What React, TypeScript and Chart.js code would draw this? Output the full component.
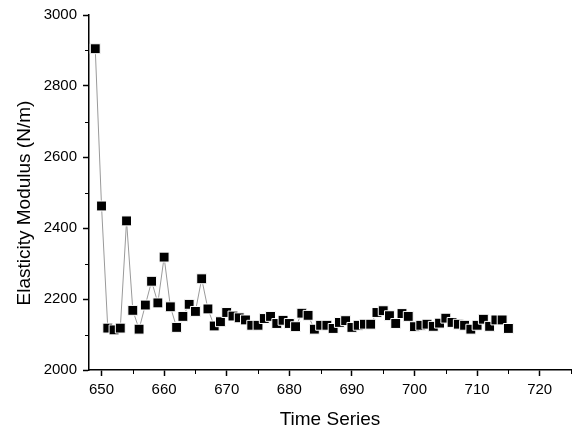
import React, { useEffect, useRef } from "react";
import { Chart, registerables } from "chart.js";

Chart.register(...registerables);

const TIME = [
  649, 650, 651, 652, 653, 654, 655, 656, 657, 658, 659, 660, 661, 662, 663, 664, 665, 666, 667, 668,
  669, 670, 671, 672, 673, 674, 675, 676, 677, 678, 679, 680, 681, 682, 683, 684, 685, 686, 687, 688,
  689, 690, 691, 692, 693, 694, 695, 696, 697, 698, 699, 700, 701, 702, 703, 704, 705, 706, 707, 708,
  709, 710, 711, 712, 713, 714, 715,
];
const MODULUS = [
  2905, 2462, 2118, 2113, 2118, 2420, 2168, 2115, 2183, 2250, 2189, 2318, 2178, 2120, 2151, 2185, 2165, 2257, 2172, 2124,
  2136, 2162, 2152, 2147, 2141, 2126, 2126, 2145, 2151, 2131, 2140, 2131, 2122, 2160, 2154, 2115, 2126, 2126, 2117, 2134,
  2139, 2120, 2126, 2129, 2129, 2162, 2167, 2153, 2131, 2159, 2151, 2122, 2126, 2129, 2123, 2132, 2146, 2134, 2129, 2126,
  2115, 2126, 2143, 2123, 2141, 2141, 2117,
];
const X_TICKS = [650, 660, 670, 680, 690, 700, 710, 720];
const X_MINOR = [655, 665, 675, 685, 695, 705, 715, 725];
const Y_TICKS = [2000, 2200, 2400, 2600, 2800, 3000];
const Y_MINOR = [2100, 2300, 2500, 2700, 2900];

const FONT = "'Liberation Sans', Arial, sans-serif";

const minorTicks = {
  id: "minorTicks",
  afterDraw(chart: any) {
    const ctx = chart.ctx;
    const xs = chart.scales.x;
    const ys = chart.scales.y;
    ctx.save();
    ctx.strokeStyle = "#000";
    ctx.lineWidth = 1;
    ctx.beginPath();
    X_MINOR.forEach((v) => {
      const px = Math.round(xs.getPixelForValue(v)) + 0.5;
      ctx.moveTo(px, xs.top);
      ctx.lineTo(px, xs.top + 4);
    });
    Y_MINOR.forEach((v) => {
      const py = Math.round(ys.getPixelForValue(v)) + 0.5;
      ctx.moveTo(ys.right, py);
      ctx.lineTo(ys.right - 4, py);
    });
    ctx.stroke();
    ctx.restore();
  },
};

export default function App() {
  const ref = useRef<HTMLCanvasElement>(null);
  useEffect(() => {
    if (!ref.current) return;
    const chart = new Chart(ref.current, {
      type: "line",
      data: {
        datasets: [
          {
            data: TIME.map((t, i) => ({ x: t, y: MODULUS[i] })),
            borderColor: "#9a9a9a",
            borderWidth: 1,
            pointStyle: "rect",
            pointRadius: 7,
            pointBackgroundColor: "#000",
            pointBorderColor: "#fff",
            pointBorderWidth: 1,
            tension: 0,
          },
        ],
      },
      options: {
        animation: false,
        responsive: false,
        devicePixelRatio: 1,
        layout: { padding: { top: 14, right: 5, left: 0, bottom: 0 } },
        plugins: { legend: { display: false }, tooltip: { enabled: false } },
        scales: {
          x: {
            type: "linear",
            min: 648,
            max: 725,
            afterBuildTicks: (s: any) => {
              s.ticks = X_TICKS.map((v) => ({ value: v }));
            },
            afterFit: (s: any) => {
              s.height = 62;
            },
            grid: { drawOnChartArea: false, tickLength: 6, tickWidth: 1.5, tickColor: "#000" },
            border: { display: true, color: "#000", width: 1.5 },
            ticks: {
              color: "#000",
              padding: 5,
              maxRotation: 0,
              font: { family: FONT, size: 15 },
              callback: (v: any) => String(v),
            },
            title: {
              display: true,
              text: "Time Series",
              color: "#000",
              font: { family: FONT, size: 19, lineHeight: 1.2 },
              padding: { top: 0, bottom: 1 },
            },
          },
          y: {
            type: "linear",
            min: 2000,
            max: 3000,
            afterBuildTicks: (s: any) => {
              s.ticks = Y_TICKS.map((v) => ({ value: v }));
            },
            afterFit: (s: any) => {
              s.width = 89;
            },
            grid: { drawOnChartArea: false, tickLength: 6, tickWidth: 1.5, tickColor: "#000" },
            border: { display: true, color: "#000", width: 1.5 },
            ticks: {
              color: "#000",
              padding: 6,
              font: { family: FONT, size: 15 },
              callback: (v: any) => String(v),
            },
            title: {
              display: true,
              text: "Elasticity Modulus (N/m)    ",
              color: "#000",
              font: { family: FONT, size: 19, lineHeight: 1.2 },
              padding: { top: 13, bottom: 0 },
            },
          },
        },
      },
      plugins: [minorTicks],
    });
    return () => chart.destroy();
  }, []);
  return (
    <div style={{ position: "fixed", left: 0, top: 0, width: 579, height: 432, background: "#fff" }}>
      <canvas ref={ref} width={579} height={432} />
    </div>
  );
}
